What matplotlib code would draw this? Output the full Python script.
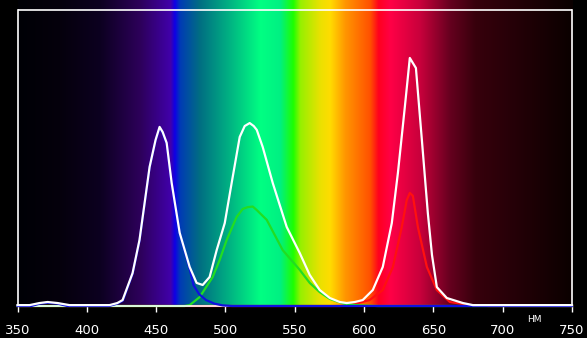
import numpy as np
import matplotlib
matplotlib.use("Agg")
import matplotlib.pyplot as plt
from matplotlib.colors import LinearSegmentedColormap
import matplotlib.transforms as mtransforms

# wavelength, nm / relative intensity
white_nm = [350, 358.7, 365.9, 371.7, 378.9, 387.5, 402, 416.4, 422, 425.8, 433, 438, 445.3, 449.6,
            452.5, 454.7, 457.6, 461.2, 467, 474.2, 479.2, 483.6, 488.6, 493.7, 499.5, 504.5,
            510.3, 513.9, 517.5, 520.4, 522.6, 526.9, 534.1, 544.2, 553.6, 560.8, 568, 575.3,
            582.5, 587.5, 593.3, 599, 606.3, 613.5, 620, 624.4, 629.4, 633, 637.4, 641.7, 646,
            649, 652.5, 659.7, 671.3, 678.5, 750]
white_val = [0.003, 0.003, 0.010, 0.0135, 0.010, 0.003, 0.003, 0.003, 0.010, 0.020, 0.111, 0.223,
             0.470, 0.561, 0.605, 0.588, 0.551, 0.416, 0.247, 0.132, 0.078, 0.071, 0.098, 0.189,
             0.280, 0.416, 0.571, 0.608, 0.618, 0.608, 0.595, 0.537, 0.416, 0.267, 0.179, 0.105,
             0.054, 0.027, 0.0135, 0.010, 0.0135, 0.020, 0.054, 0.132, 0.280, 0.449, 0.672, 0.838,
             0.804, 0.561, 0.314, 0.172, 0.064, 0.027, 0.010, 0.003, 0.003]

blue_nm = [350, 360, 366, 372, 379, 386, 416, 422, 426, 433, 438, 445.3, 449.6, 452.5, 454.7, 457.6,
           461.2, 467, 474.2, 477, 481, 486, 492, 498, 505, 750]
blue_val = [0, 0, 0.008, 0.011, 0.008, 0, 0, 0.008, 0.018, 0.108, 0.22, 0.468, 0.558, 0.602, 0.585,
            0.548, 0.413, 0.245, 0.125, 0.07, 0.04, 0.02, 0.008, 0.002, 0, 0]

green_nm = [350, 470.6, 474.2, 481.4, 490.8, 495.8, 500.9, 508.1, 512.5, 516, 519.7, 522.6, 529.8,
            541.3, 553.6, 560.8, 568, 575.3, 586, 597, 610, 750]
green_val = [0, 0, 0.003, 0.030, 0.098, 0.155, 0.223, 0.301, 0.328, 0.334, 0.336, 0.324, 0.291,
             0.189, 0.122, 0.078, 0.047, 0.024, 0.007, 0.002, 0, 0]

red_nm = [350, 582.5, 589.7, 604, 613.5, 620.8, 627.2, 630.8, 633, 635.2, 638.8, 645.3, 652.5,
          661.9, 676.4, 690, 750]
red_val = [0, 0, 0.003, 0.020, 0.054, 0.132, 0.267, 0.358, 0.382, 0.372, 0.267, 0.132, 0.054,
           0.0135, 0.003, 0, 0]

# background spectrum colour stops
spec_nm = [350, 380, 409, 438, 460, 463, 467, 481, 503, 525, 539, 548.5, 553.6, 568, 575,
           586, 604, 610, 618.6, 640, 662, 680, 750]
spec_rgb = [(0, 0, 5), (5, 0, 12), (12, 0, 32), (45, 0, 90), (65, 0, 170), (15, 0, 230),
            (0, 60, 180), (0, 110, 130), (0, 180, 130), (0, 255, 130), (0, 240, 130),
            (30, 255, 0), (150, 240, 0), (235, 225, 0), (255, 220, 0), (255, 150, 0),
            (255, 80, 0), (255, 0, 30), (255, 0, 70), (200, 0, 60), (100, 0, 30),
            (55, 0, 12), (10, 0, 0)]

xticks = [350, 400, 450, 500, 550, 600, 650, 700, 750]

fig = plt.figure(figsize=(5.87, 3.38), dpi=100, facecolor="black")
ax = fig.add_axes([17.5 / 587, 32 / 338, (572 - 17.5) / 587, 306 / 338])
ax.set_facecolor("black")

ymax = 306 / 296
pos = [(w - 350) / 400 for w in spec_nm]
cmap = LinearSegmentedColormap.from_list(
    "spec", list(zip(pos, [tuple(c / 255 for c in rgb) for rgb in spec_rgb])), N=1024)
grad = np.linspace(0, 1, 1024).reshape(1, -1)
ax.imshow(grad, cmap=cmap, aspect="auto", extent=[350, 750, 0, ymax], zorder=0)

ax.plot(red_nm, red_val, color="#ff1010", lw=1.6, zorder=2, clip_on=False)
ax.plot(green_nm, green_val, color="#22dd22", lw=1.6, zorder=2, clip_on=False)
ax.plot(blue_nm, blue_val, color="#1010e0", lw=1.6, zorder=3, clip_on=False)
ax.plot(white_nm, white_val, color="white", lw=1.6, zorder=4, clip_on=False)

ax.set_xlim(350, 750)
ax.set_ylim(0, ymax)
ax.axhline(1.0, color="white", lw=1.2, zorder=5)

for s in ["left", "right", "bottom"]:
    ax.spines[s].set_color("white")
    ax.spines[s].set_linewidth(1.2)
ax.spines["top"].set_visible(False)
ax.spines["left"].set_bounds(0, 1.0)
ax.spines["right"].set_bounds(0, 1.0)

ax.set_xticks(xticks)
ax.set_yticks([])
ax.tick_params(axis="x", colors="white", length=4, width=1, pad=9, labelsize=9.5)

trans = mtransforms.blended_transform_factory(ax.transData, fig.transFigure)
ax.text(723, 1 - 319 / 338, "НМ", transform=trans, color="white", fontsize=6.5,
        ha="center", va="center")

fig.savefig("out.png", dpi=100, facecolor="black")
